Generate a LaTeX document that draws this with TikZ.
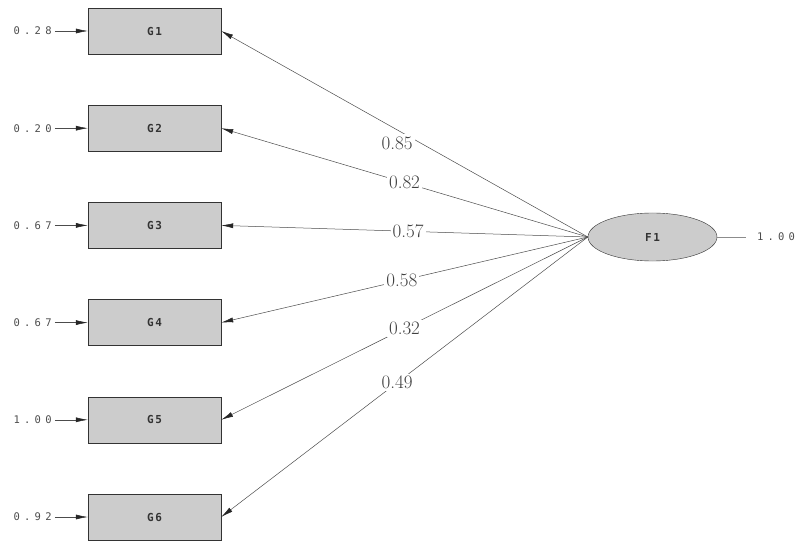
\documentclass[tikz,border=0pt]{standalone}
\usepackage{fontspec}
\usepackage{tikz}
\usetikzlibrary{arrows, arrows.meta, positioning, shapes.geometric}
\newfontfamily\lisrel[LetterSpace=40]{DejaVu Sans Mono}
\newfontfamily\lisrelbox[LetterSpace=15]{DejaVu Sans Mono}

\begin{document}
\begin{tikzpicture}[x=1pt, y=-1pt, node distance={97.2pt},
		ind/.style = {draw=black!80, fill=black!20, minimum width=133pt, minimum height=46pt, inner sep=0pt, font=\lisrelbox\fontsize{11}{12}\selectfont\bfseries, text=black!80},
		lat/.style = {draw=black!80, fill=black!20, ellipse, minimum width=129pt, minimum height=48pt, inner sep=0pt, font=\lisrelbox\fontsize{11}{12}\selectfont\bfseries, text=black!80},
		err/.style = {inner sep=3pt, font=\lisrel\fontsize{10.5}{12}\selectfont, text=black!70},
		load/.style = {fill=white, inner sep=2pt, font=\fontsize{19}{21}\selectfont, text=black!75},
		path/.style = {draw=black!70, line width=0.5pt, -{Latex[length=12pt,width=5pt,color=black!85,fill=black!85]}}]
		\useasboundingbox (0,0) rectangle (797,545);
		% indicators
		\node[ind] (1) at (154.5,31) {G1};
		\node[ind] (2) [below of=1] {G2};
		\node[ind] (3) [below of=2] {G3};
		\node[ind] (4) [below of=3] {G4};
		\node[ind] (5) [below of=4] {G5};
		\node[ind] (6) [below of=5] {G6};
		% latent factor
		\node[lat] (f1) at (652.5,237) {F1};
		\node[err] (v1) at (776,237) {1.00};
		% error variances
		\node[err] (e1) [left=33pt of 1] {0.28};
		\node[err] (e2) [left=33pt of 2] {0.20};
		\node[err] (e3) [left=33pt of 3] {0.67};
		\node[err] (e4) [left=33pt of 4] {0.67};
		\node[err] (e5) [left=33pt of 5] {1.00};
		\node[err] (e6) [left=33pt of 6] {0.92};
		\draw[path] (e1) -- (1);
		\draw[path] (e2) -- (2);
		\draw[path] (e3) -- (3);
		\draw[path] (e4) -- (4);
		\draw[path] (e5) -- (5);
		\draw[path] (e6) -- (6);
		% loadings
		\draw[path] (f1.west) -- node[load, pos=0.52, yshift=-13pt] {0.85} (1.east);
		\draw[path] (f1.west) -- node[load, pos=0.5] {0.82} (2.east);
		\draw[path] (f1.west) -- node[load, pos=0.49] {0.57} (3.east);
		\draw[path] (f1.west) -- node[load, pos=0.507] {0.58} (4.east);
		\draw[path] (f1.west) -- node[load, pos=0.5] {0.32} (5.east);
		\draw[path] (f1.west) -- node[load, pos=0.52] {0.49} (6.east);
		\draw[draw=black!45, line width=0.5pt, shorten >=8pt] (f1) -- (v1);
	\end{tikzpicture}
\end{document}
